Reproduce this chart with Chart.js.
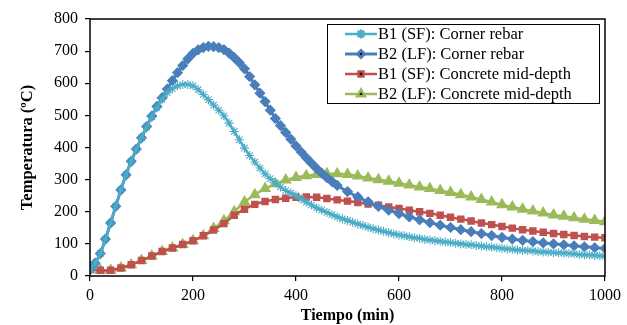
<!DOCTYPE html>
<html>
<head>
<meta charset="utf-8">
<script src="https://cdn.jsdelivr.net/npm/chart.js@4.4.1/dist/chart.umd.min.js"></script>
<style>
  html, body { margin: 0; padding: 0; background: #fff; }
  #wrap { width: 627px; height: 325px; }
</style>
</head>
<body>
<div id="wrap"><canvas id="temps" width="627" height="325"></canvas></div>
<script>
// mid-depth readings every 20 min
const tiempo = [0, 20, 40, 60, 80, 100, 120, 140, 160, 180, 200, 220, 240, 260, 280, 300, 320, 340, 360, 380,
  400, 420, 440, 460, 480, 500, 520, 540, 560, 580, 600, 620, 640, 660, 680, 700, 720, 740, 760, 780,
  800, 820, 840, 860, 880, 900, 920, 940, 960, 980, 1000];

// B1 corner rebar logged every 10 min
const tiempoB1Corner = [0, 10, 20, 30, 40, 50, 60, 70, 80, 90, 100, 110, 120, 130, 140, 150, 160, 170, 180, 190,
  200, 210, 220, 230, 240, 250, 260, 270, 280, 290, 300, 310, 320, 330, 340, 350, 360, 370, 380, 390,
  400, 410, 420, 430, 440, 450, 460, 470, 480, 490, 500, 510, 520, 530, 540, 550, 560, 570, 580, 590,
  600, 610, 620, 630, 640, 650, 660, 670, 680, 690, 700, 710, 720, 730, 740, 750, 760, 770, 780, 790,
  800, 810, 820, 830, 840, 850, 860, 870, 880, 890, 900, 910, 920, 930, 940, 950, 960, 970, 980, 990, 1000];

// B2 corner rebar: 10 min up to 480, then 20 min
const tiempoB2Corner = [0, 10, 20, 30, 40, 50, 60, 70, 80, 90, 100, 110, 120, 130, 140, 150, 160, 170, 180, 190,
  200, 210, 220, 230, 240, 250, 260, 270, 280, 290, 300, 310, 320, 330, 340, 350, 360, 370, 380, 390,
  400, 410, 420, 430, 440, 450, 460, 470, 480, 500, 520, 540, 560, 580, 600, 620, 640, 660, 680, 700,
  720, 740, 760, 780, 800, 820, 840, 860, 880, 900, 920, 940, 960, 980, 1000];

const seriesNames = [
  'B1 (SF): Corner rebar',
  'B2 (LF): Corner rebar',
  'B1 (SF): Concrete mid-depth',
  'B2 (LF): Concrete mid-depth'
];

// temperatures (ºC)
const b1Corner = [20, 40, 70, 115, 165, 217, 268, 315, 357, 395, 430, 464, 495, 524, 550, 570, 583, 592, 596, 596,
  592, 580, 565, 549, 532, 516, 499, 476, 450, 424, 398, 375, 355, 336, 318, 303, 290, 277, 266, 258,
  250, 240, 230, 221, 212, 205, 198, 191, 184, 178, 173, 167, 162, 157, 152, 147, 143, 139, 135, 131,
  128, 125, 122, 119, 117, 114, 112, 110, 108, 106, 104, 102, 100, 98, 97, 95, 93, 91, 90, 88,
  86, 84, 83, 81, 80, 79, 78, 76, 75, 74, 73, 72, 71, 70, 69, 67, 66, 65, 64, 63, 62];
const b2Corner = [20, 40, 70, 115, 165, 217, 268, 315, 357, 395, 430, 465, 498, 528, 555, 582, 608, 633, 655, 676,
  693, 704, 711, 715, 714, 711, 705, 694, 680, 664, 645, 621, 595, 569, 543, 516, 490, 468, 447, 426,
  405, 386, 368, 351, 335, 320, 306, 294, 282, 263, 246, 231, 217, 205, 194, 184, 175, 166, 158, 151,
  144, 138, 132, 126, 120, 115, 111, 107, 103, 100, 97, 94, 91, 88, 86];
const b1Mid = [20, 18, 18, 25, 35, 48, 62, 76, 87, 98, 110, 125, 143, 163, 189, 208, 223, 232, 238, 242,
  245, 246, 245, 241, 237, 233, 229, 224, 220, 215, 210, 205, 200, 195, 189, 183, 177, 171, 165, 160,
  154, 149, 144, 140, 136, 132, 129, 126, 123, 121, 119];
const b2Mid = [20, 18, 18, 25, 35, 48, 62, 76, 87, 98, 110, 125, 148, 172, 200, 230, 253, 272, 287, 299,
  307, 312, 316, 318, 318, 316, 311, 305, 300, 295, 289, 283, 277, 272, 266, 260, 253, 246, 238, 230,
  222, 215, 208, 202, 196, 190, 186, 181, 177, 173, 169];

const xTicks = [0, 200, 400, 600, 800, 1000];
const yTicks = [0, 100, 200, 300, 400, 500, 600, 700, 800];

function toPoints(times, values) {
  return values.map((v, i) => ({ x: times[i], y: v }));
}

const serif = 'Liberation Serif, Times New Roman, serif';

// black frame round the plot area
const frame = {
  id: 'frame',
  afterDraw(chart) {
    const { ctx, chartArea: a } = chart;
    ctx.save();
    ctx.strokeStyle = '#000';
    ctx.lineWidth = 1.5;
    ctx.strokeRect(a.left, a.top, a.right - a.left, a.bottom - a.top);
    ctx.restore();
  }
};

// boxed legend in the upper right, line sample with marker
const boxLegend = {
  id: 'boxLegend',
  afterDatasetsDraw(chart) {
    const { ctx } = chart;
    const bx = 327, by = 24, bw = 272, bh = 79;
    ctx.save();
    ctx.fillStyle = '#fff';
    ctx.fillRect(bx, by, bw, bh);
    ctx.strokeStyle = '#000';
    ctx.lineWidth = 1;
    ctx.strokeRect(bx + 0.5, by + 0.5, bw, bh);
    ctx.font = '16.5px ' + serif;
    ctx.textBaseline = 'middle';
    chart.data.datasets.forEach((ds, i) => {
      const y = by + 10 + i * 20;
      ctx.strokeStyle = ds.borderColor;
      ctx.lineWidth = ds.borderWidth;
      ctx.beginPath();
      ctx.moveTo(bx + 18, y);
      ctx.lineTo(bx + 50, y);
      ctx.stroke();
      Chart.helpers.drawPoint(ctx, {
        pointStyle: ds.pointStyle,
        radius: ds.pointRadius,
        borderWidth: ds.pointBorderWidth || 1
      }, bx + 34, y);
      ctx.fillStyle = '#000';
      ctx.fillText(seriesNames[i], bx + 51, y + 1);
    });
    ctx.restore();
  }
};

function serie(i, times, values, color, style, radius, extra) {
  return Object.assign({
    label: seriesNames[i],
    data: toPoints(times, values),
    borderColor: color,
    backgroundColor: color,
    pointBackgroundColor: color,
    pointBorderColor: color,
    pointStyle: style,
    pointRadius: radius,
    borderWidth: 2.5,
    tension: 0.35
  }, extra || {});
}

const ctx = document.getElementById('temps').getContext('2d');
new Chart(ctx, {
  type: 'line',
  data: {
    datasets: [
      serie(0, tiempoB1Corner, b1Corner, '#4BACC6', 'star', 4.5, { pointBorderWidth: 1.1 }),
      serie(1, tiempoB2Corner, b2Corner, '#4A7EBB', 'rectRot', 3.5, { borderWidth: 3 }),
      serie(2, tiempo, b1Mid, '#C0504D', 'rect', 3.5),
      serie(3, tiempo, b2Mid, '#9BBB59', 'triangle', 4.5)
    ]
  },
  options: {
    responsive: false,
    animation: false,
    layout: { padding: { top: 19, right: 22, left: 0, bottom: 0 } },
    plugins: {
      legend: { display: false },
      tooltip: { enabled: false }
    },
    scales: {
      x: {
        type: 'linear',
        min: 0,
        max: 1000,
        afterBuildTicks: s => { s.ticks = xTicks.map(v => ({ value: v })); },
        afterFit: s => { s.height = 49; },
        border: { display: false },
        grid: { drawOnChartArea: false, color: '#000', tickLength: 5, lineWidth: 1.2 },
        ticks: {
          color: '#000',
          padding: 5,
          maxRotation: 0,
          font: { family: serif, size: 16 },
          callback: v => String(v)
        },
        title: {
          display: true,
          text: 'Tiempo (min)',
          color: '#000',
          padding: { top: 0, bottom: 0 },
          font: { family: serif, size: 16, weight: 'bold' }
        }
      },
      y: {
        min: 0,
        max: 800,
        afterBuildTicks: s => { s.ticks = yTicks.map(v => ({ value: v })); },
        afterFit: s => { s.width = 90; },
        border: { display: false },
        grid: { drawOnChartArea: false, color: '#000', tickLength: 5, lineWidth: 1.2 },
        ticks: { color: '#000', padding: 7, font: { family: serif, size: 16 } },
        title: {
          display: true,
          text: 'Temperatura (ºC)',
          color: '#000',
          padding: { top: 18, bottom: 0 },
          font: { family: serif, size: 16.5, weight: 'bold' }
        }
      }
    }
  },
  plugins: [frame, boxLegend]
});
</script>
</body>
</html>
